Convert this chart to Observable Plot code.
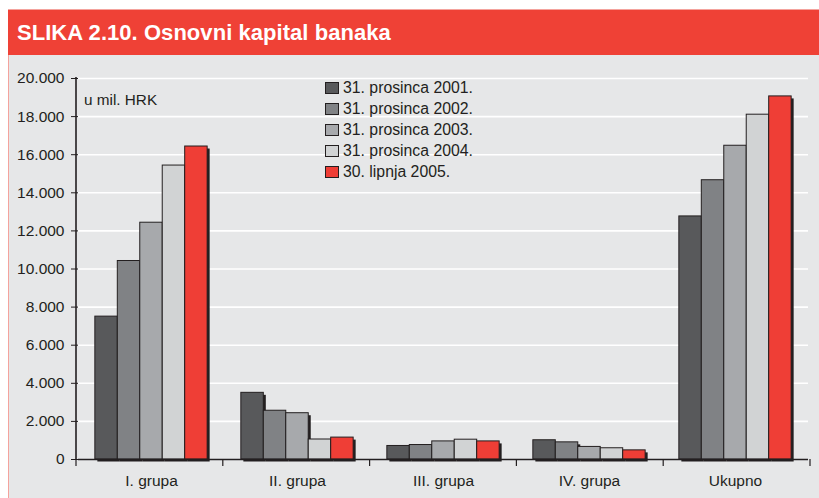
<!DOCTYPE html>
<html>
<head>
<meta charset="utf-8">
<script src="https://cdn.jsdelivr.net/npm/d3@7"></script>
<script src="https://cdn.jsdelivr.net/npm/@observablehq/plot@0.6"></script>
<style>
  html, body { margin: 0; padding: 0; background: #ffffff; }
  body { width: 819px; height: 498px; position: relative; overflow: hidden;
         font-family: "Liberation Sans", Arial, sans-serif; color: #231f20; }
  #band { position: absolute; left: 8px; top: 9px; width: 811px; height: 46px;
          background: #ef4136; border-top: 1px solid #f4a39d; box-sizing: border-box; }
  #band h1 { margin: 0; position: absolute; left: 9px; top: 12px; font-size: 22px;
             font-weight: bold; color: #ffffff; line-height: 1; letter-spacing: 0.05px; white-space: nowrap; }
  #panel { position: absolute; left: 8px; top: 55px; width: 811px; height: 443px;
           background: #e6e7e8; border-left: 1px solid #f4a39d; box-sizing: border-box; }
  #chart { position: absolute; left: 0; top: 55px; }
  #unit { position: absolute; left: 84px; top: 92px; font-size: 15.3px; line-height: 1; white-space: nowrap; }
  #legend { position: absolute; left: 325px; top: 77.5px; font-size: 15.8px; }
  #legend .row { display: flex; align-items: center; height: 21px; white-space: nowrap; }
  #legend .sw { width: 14px; height: 12px; box-sizing: border-box; border: 1px solid #231f20; margin-right: 4px; }
</style>
</head>
<body>
<div id="band"><h1>SLIKA 2.10. Osnovni kapital banaka</h1></div>
<div id="panel"></div>
<div id="chart"></div>
<div id="unit">u mil. HRK</div>
<div id="legend"></div>
<script>
const groups = ["I. grupa", "II. grupa", "III. grupa", "IV. grupa", "Ukupno"];
const seriesNames = ["31. prosinca 2001.", "31. prosinca 2002.", "31. prosinca 2003.", "31. prosinca 2004.", "30. lipnja 2005."];
const v2001 = [7500, 3500, 710, 1010, 12760];
const v2002 = [10420, 2560, 760, 900, 14660];
const v2003 = [12430, 2430, 950, 660, 16470];
const v2004 = [15430, 1050, 1040, 590, 18100];
const v2005 = [16430, 1150, 950, 480, 19060];
const seriesValues = [v2001, v2002, v2003, v2004, v2005];
const seriesColors = ["#58595b", "#808285", "#a7a9ac", "#d1d3d4", "#ef3e36"];
const yTicks = [0, 2000, 4000, 6000, 8000, 10000, 12000, 14000, 16000, 18000, 20000];

const rows = groups.flatMap((g, i) => seriesNames.map((s, j) => ({group: g, series: s, value: seriesValues[j][i]})));
const fmt = d => d === 0 ? "0" : d3.format(",")(d).replace(/,/g, ".");

const chart = Plot.plot({
  width: 819, height: 443,
  marginLeft: 76, marginRight: 9, marginTop: 23, marginBottom: 39,
  style: {background: "transparent", fontFamily: "'Liberation Sans', Arial, sans-serif", fontSize: "15.5px", color: "#231f20", overflow: "visible"},
  facet: {data: rows, x: "group"},
  fx: {domain: groups, padding: 0, label: null, tickSize: 0, tickPadding: 15, axis: "bottom"},
  x: {domain: seriesNames, paddingInner: 0, paddingOuter: 0.75, axis: null, round: false},
  y: {domain: [0, 20000], ticks: yTicks, tickFormat: fmt, tickSize: 7, tickPadding: 7, label: null},
  color: {domain: seriesNames, range: seriesColors},
  marks: [
    Plot.ruleY(yTicks.filter(d => d > 0), {stroke: "#ffffff", strokeWidth: 1.6}),
    Plot.barY(rows, {x: "series", y: "value", fill: "#231f20", dx: 2.5, dy: 2.5}),
    Plot.barY(rows, {x: "series", y: "value", fill: "series", stroke: "#231f20", strokeWidth: 1}),
    Plot.ruleY([0], {stroke: "#231f20", strokeWidth: 1.6})
  ]
});
document.getElementById("chart").appendChild(chart);

// axis line and boundary ticks from the library's scales
const svg = d3.select(chart);
const ys = chart.scale("y");
const fxs = chart.scale("fx");
const y0 = ys.apply(0), yTop = ys.apply(20000);
const [r0, r1] = fxs.range;
svg.append("line").attr("x1", r0).attr("x2", r0).attr("y1", yTop - 1).attr("y2", y0)
  .attr("stroke", "#231f20").attr("stroke-width", 1.6);
const step = (r1 - r0) / groups.length;
d3.range(groups.length + 1).forEach(i => {
  const x = r0 + i * step;
  svg.append("line").attr("x1", x).attr("x2", x).attr("y1", y0).attr("y2", y0 + 7)
    .attr("stroke", "#231f20").attr("stroke-width", 1.2);
});

// legend
const legend = d3.select("#legend");
seriesNames.forEach((s, i) => {
  const row = legend.append("div").attr("class", "row");
  row.append("div").attr("class", "sw").style("background", seriesColors[i]);
  row.append("span").text(s);
});
</script>
</body>
</html>
